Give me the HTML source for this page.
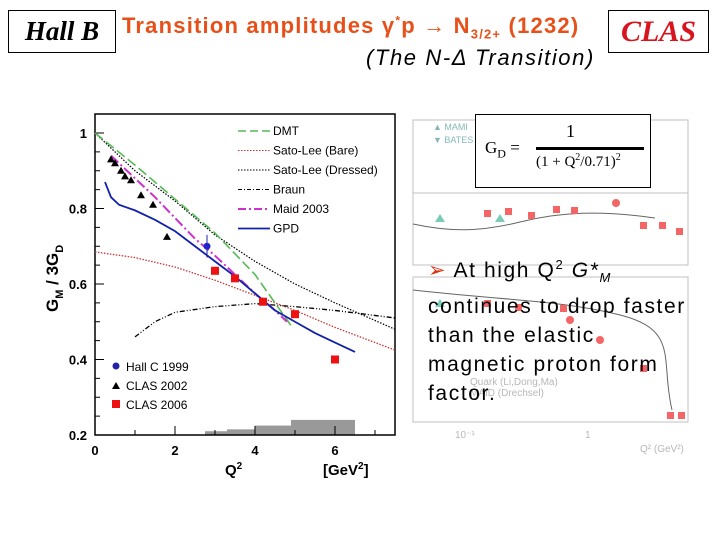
<!DOCTYPE html>
<html><head><meta charset="utf-8">
<style>
body{margin:0;width:720px;height:540px;background:#fff;overflow:hidden;position:relative;font-family:"Liberation Sans",sans-serif}
.abs{position:absolute}
</style></head>
<body>
<div class="abs" style="left:8px;top:10px;width:106px;height:41px;border:1px solid #000;font:italic bold 27px 'Liberation Serif',serif;text-align:center;line-height:41px">Hall B</div>
<div class="abs" style="left:122px;top:13px;font-weight:bold;font-size:22px;letter-spacing:1.2px;color:#e8501a;white-space:nowrap">Transition amplitudes γ<sup style="font-size:12px">*</sup>p → N<sub style="font-size:13px">3/2+</sub> (1232)</div>
<div class="abs" style="left:366px;top:45px;font-style:italic;font-size:22px;letter-spacing:1.6px;white-space:nowrap">(The N-Δ Transition)</div>
<div class="abs" style="left:608px;top:10px;width:99px;height:41px;border:1px solid #000;font:italic bold 30px 'Liberation Serif',serif;color:#d8141e;text-align:center;line-height:41px">CLAS</div>

<svg class="abs" style="left:0;top:0" width="720" height="540">
<g id="right" opacity="0.6">
<rect x="413" y="120" width="275" height="145" fill="none" stroke="#999"/>
<rect x="413" y="277" width="275" height="145" fill="none" stroke="#999"/>
<line x1="413" y1="193" x2="688" y2="193" stroke="#999"/>
<path d="M413,224 C450,232 480,232 520,222 S600,210 655,218" fill="none" stroke="#000"/>
<path d="M413,290 C500,300 560,300 620,315 S660,360 672,410" fill="none" stroke="#000"/>
<g fill="#e00">
<rect x="484" y="210" width="7" height="7"/><rect x="505" y="208" width="7" height="7"/><rect x="528" y="212" width="7" height="7"/><rect x="553" y="206" width="7" height="7"/><rect x="571" y="207" width="7" height="7"/><rect x="640" y="222" width="7" height="7"/><rect x="659" y="222" width="7" height="7"/><rect x="676" y="228" width="7" height="7"/>
<rect x="484" y="300" width="7" height="7"/><rect x="515" y="304" width="7" height="7"/><rect x="560" y="305" width="7" height="7"/><rect x="640" y="365" width="7" height="7"/><rect x="667" y="412" width="7" height="7"/><rect x="678" y="412" width="7" height="7"/>
<circle cx="616" cy="203" r="4"/><circle cx="600" cy="340" r="4"/><circle cx="570" cy="320" r="4"/>
</g>
<g fill="#2a8" ><path d="M435,222 l5,-8 5,8z"/><path d="M495,222 l5,-8 5,8z"/><path d="M435,307 l5,-8 5,8z"/></g>
<text x="433" y="130" font-size="9" fill="#388">▲ MAMI</text><text x="433" y="143" font-size="9" fill="#388">▼ BATES</text>
<text x="470" y="385" font-size="10" fill="#888">Quark (Li,Dong,Ma)</text>
<text x="470" y="396" font-size="10" fill="#888">MAID (Drechsel)</text>
<text x="455" y="438" font-size="10" fill="#888">10⁻¹</text><text x="585" y="438" font-size="10" fill="#888">1</text>
<text x="640" y="452" font-size="10" fill="#888">Q² (GeV²)</text>
</g>
<g id="plot"></g>
</svg>

<div class="abs" style="left:475px;top:114px;width:174px;height:72px;border:1px solid #000;background:#fff;font-family:'Liberation Serif',serif">
<div class="abs" style="left:9px;top:23px;font-size:17px">G<sub style="font-size:12px">D</sub> =</div>
<div class="abs" style="left:90px;top:6px;font-size:18px">1</div>
<div class="abs" style="left:60px;top:32px;width:108px;border-top:3px solid #000"></div>
<div class="abs" style="left:60px;top:37px;font-size:15px;white-space:nowrap">(1 + Q<sup style="font-size:10px">2</sup>/0.71)<sup style="font-size:10px">2</sup></div>
</div>

<div class="abs" style="left:428px;top:250px;font-size:21px;line-height:29px;letter-spacing:1.6px;white-space:nowrap">
<span style="color:#e03010">➢</span> At high Q<sup style="font-size:13px">2</sup> <i>G*<sub style="font-size:13px">M</sub></i><br>continues to drop faster<br>than the elastic<br>magnetic proton form<br>factor.
</div>

<script>
const ns="http://www.w3.org/2000/svg";
const g=document.getElementById('plot');
function X(q){return 95+40*q;}
function Y(v){return 435-(v-0.2)*377.5;}
function mk(t,a,p){const e=document.createElementNS(ns,t);for(const k in a)e.setAttribute(k,a[k]);(p||g).appendChild(e);return e;}
const xTicks=[0,2,4,6];
const yTicks=[0.2,0.4,0.6,0.8,1];
const yTickLabels=["0.2","0.4","0.6","0.8","1"];
const bandX=[2.75,3.3,4.0,4.9,6.5];
const bandH=[0.21,0.215,0.225,0.24];
const dmtQ=[0,1,2,3,4,4.9];
const dmtV=[1.0,0.915,0.825,0.735,0.625,0.49];
const maidQ=[0.4,1,1.5,2,2.5,3,3.5,4,4.5,4.8];
const maidV=[0.94,0.88,0.83,0.775,0.72,0.675,0.625,0.575,0.53,0.5];
const gpdQ=[0.25,0.4,0.6,1,1.5,2,2.5,3,3.5,4,4.5,5,5.5,6,6.5];
const gpdV=[0.87,0.83,0.81,0.795,0.77,0.74,0.7,0.66,0.62,0.575,0.53,0.5,0.47,0.445,0.42];
const bareQ=[0,1,2,3,4,5,6,7.5];
const bareV=[0.685,0.67,0.645,0.61,0.57,0.53,0.485,0.425];
const dressQ=[0,1,2,3,4,5,6,7.5];
const dressV=[1.0,0.9,0.82,0.73,0.66,0.6,0.55,0.48];
const braunQ=[1,1.5,2,3,4,5,6,7.5];
const braunV=[0.46,0.5,0.525,0.54,0.548,0.54,0.53,0.51];
const tQ=[0.4,0.5,0.65,0.75,0.9,1.15,1.45,1.8];
const tV=[0.93,0.92,0.9,0.885,0.875,0.835,0.81,0.725];
const hcQ=[2.8],hcV=[0.7],hcE=[0.03];
const sqQ=[3.0,3.5,4.2,5.0,6.0];
const sqV=[0.635,0.615,0.553,0.52,0.40];

for(let i=0;i<bandH.length;i++){const r=mk('rect',{x:X(bandX[i]),y:Y(bandH[i]),width:X(bandX[i+1])-X(bandX[i]),height:Y(0.2)-Y(bandH[i]),fill:'#999'});
}
mk('rect',{x:X(0),y:114,width:X(7.5)-X(0),height:Y(0.2)-114,fill:'none',stroke:'#000','stroke-width':1.5});
for(let q=0;q<=7;q++){const maj=q%2==0;mk('line',{x1:X(q),x2:X(q),y1:Y(0.2),y2:Y(0.2)-(maj?9:5),stroke:'#000'});}
for(let v=0.2;v<1.05;v+=0.05){mk('line',{x1:X(0),x2:X(0)+(Math.abs(v*10-Math.round(v*10))<0.01&&Math.round(v*10)%2==0?9:5),y1:Y(v),y2:Y(v),stroke:'#000'});}
xTicks.forEach(q=>{const t=mk('text',{x:X(q),y:455,'font-size':13,'font-weight':'bold','text-anchor':'middle'});t.textContent=q;
});
yTicks.forEach((v,i)=>{const t=mk('text',{x:X(0)-8,y:Y(v)+5,'font-size':13,'font-weight':'bold','text-anchor':'end'});t.textContent=yTickLabels[i];
});
let t=mk('text',{x:225,y:475,'font-size':15,'font-weight':'bold'});t.innerHTML='Q<tspan dy="-6" font-size="10">2</tspan>';

t=mk('text',{x:323,y:475,'font-size':15,'font-weight':'bold'});t.innerHTML='[GeV<tspan dy="-6" font-size="10">2</tspan><tspan dy="6">]</tspan>';

t=mk('text',{x:0,y:0,'font-size':17,'font-weight':'bold',transform:'translate(58,312) rotate(-90)'});t.innerHTML='G<tspan dy="5" font-size="11">M</tspan><tspan dy="-5"> / 3G</tspan><tspan dy="5" font-size="11">D</tspan>';

function line(qs,vs,st,name){const d=qs.map((q,i)=>(i?'L':'M')+X(q)+','+Y(vs[i])).join(' ');const p=mk('path',Object.assign({d:d,fill:'none'},st));
}
line(bareQ,bareV,{stroke:'#c33','stroke-width':1.3,'stroke-dasharray':'1.5 1.5'},'sato-lee-bare-line');
line(dressQ,dressV,{stroke:'#000','stroke-width':1.2,'stroke-dasharray':'1.5 1.5'},'sato-lee-dressed-line');
line(braunQ,braunV,{stroke:'#000','stroke-width':1.3,'stroke-dasharray':'5 2 1 2 1 2'},'braun-line');
line(dmtQ,dmtV,{stroke:'#5b5','stroke-width':1.6,'stroke-dasharray':'10 4'},'dmt-line');
line(maidQ,maidV,{stroke:'#c3c','stroke-width':2,'stroke-dasharray':'10 3 2 3'},'maid-2003-line');
line(gpdQ,gpdV,{stroke:'#12a','stroke-width':1.8},'gpd-line');
tQ.forEach((q,i)=>{const p=mk('path',{d:`M${X(q)-4},${Y(tV[i])+3}l4,-7 4,7z`,fill:'#000'});});
hcQ.forEach((q,i)=>{mk('line',{x1:X(q),x2:X(q),y1:Y(hcV[i]+hcE[i]),y2:Y(hcV[i]-hcE[i]),stroke:'#22a'});const c=mk('circle',{cx:X(q),cy:Y(hcV[i]),r:3.5,fill:'#22c'});});
sqQ.forEach((q,i)=>{const r=mk('rect',{x:X(q)-4,y:Y(sqV[i])-4,width:8,height:8,fill:'#e11'});});
const legL=["DMT","Sato-Lee (Bare)","Sato-Lee (Dressed)","Braun","Maid 2003","GPD"];
const legS=[{stroke:'#5b5','stroke-dasharray':'8 4','stroke-width':1.5},{stroke:'#c33','stroke-dasharray':'1.5 1.5'},{stroke:'#000','stroke-dasharray':'1.5 1.5'},{stroke:'#000','stroke-dasharray':'4 2 1 2'},{stroke:'#c3c','stroke-dasharray':'8 3 2 3','stroke-width':2},{stroke:'#12a','stroke-width':1.8}];
legL.forEach((l,i)=>{const y=131+i*19.5;mk('line',Object.assign({x1:238,x2:270,y1:y,y2:y},legS[i]));const tt=mk('text',{x:273,y:y+4,'font-size':12});tt.textContent=l;
});
const mk2=[["Hall C 1999",'c'],["CLAS 2002",'t'],["CLAS 2006",'s']];
mk2.forEach((m,i)=>{const y=370+i*19;if(m[1]=='c')mk('circle',{cx:116,cy:y-4,r:3.5,fill:'#22a'});else if(m[1]=='t')mk('path',{d:`M112,${y}l4,-7 4,7z`,fill:'#000'});else mk('rect',{x:112,y:y-8,width:8,height:8,fill:'#e11'});
const tt=mk('text',{x:126,y:y+1,'font-size':12});tt.textContent=m[0];});
</script>
</body></html>
